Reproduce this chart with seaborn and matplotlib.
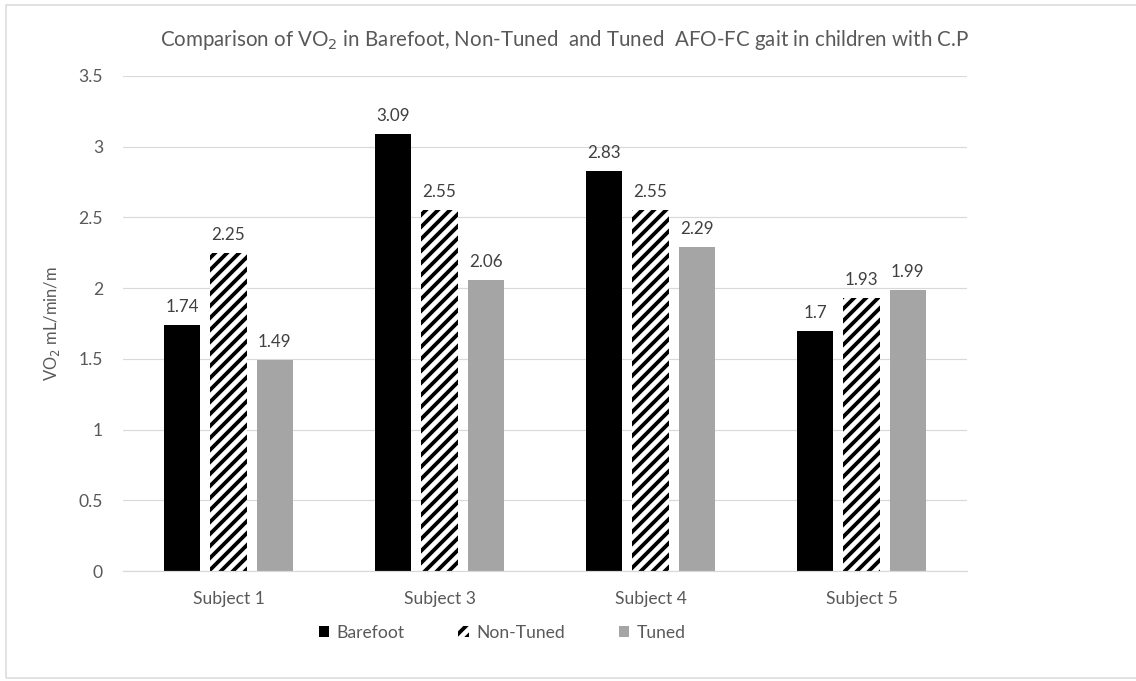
"""
Bar chart: VO2 in barefoot, non-tuned and tuned AFO-FC gait (children with C.P).
"""

import matplotlib.pyplot as plt
import pandas as pd
import seaborn as sns
from matplotlib.patches import Patch, Rectangle

subjects = ["Subject 1", "Subject 3", "Subject 4", "Subject 5"]
conditions = ["Barefoot", "Non-Tuned", "Tuned"]
barefoot = [1.74, 3.09, 2.83, 1.70]
non_tuned = [2.25, 2.55, 2.55, 1.93]
tuned = [1.49, 2.06, 2.29, 1.99]
value_labels = [
    ["1.74", "3.09", "2.83", "1.7"],
    ["2.25", "2.55", "2.55", "1.93"],
    ["1.49", "2.06", "2.29", "1.99"],
]

TEXT = "#595959"
GRID = "#D9D9D9"
colors = {"Barefoot": "black", "Non-Tuned": "white", "Tuned": "#A5A5A5"}

df = pd.DataFrame(
    {
        "subject": subjects * 3,
        "condition": [c for c in conditions for _ in subjects],
        "vo2": barefoot + non_tuned + tuned,
    }
)

sns.set_style("white")
plt.rcParams["font.family"] = ["Lato", "DejaVu Sans"]
plt.rcParams["hatch.linewidth"] = 3.8

# 72 dpi so that points == pixels
fig = plt.figure(figsize=(1136 / 72, 681 / 72), dpi=72)
ax = fig.add_axes([123 / 1136, 1 - 571 / 681, (967 - 123) / 1136, (571 - 76) / 681])

sns.barplot(
    data=df, x="subject", y="vo2", hue="condition", order=subjects,
    hue_order=conditions, palette=colors, saturation=1, width=0.66, gap=0.22,
    linewidth=0, edgecolor="black", ax=ax, legend=False, errorbar=None,
)

for cont, name, labels in zip(ax.containers, conditions, value_labels):
    if name == "Non-Tuned":
        for bar in cont:
            bar.set_hatch("//")
            bar.set_edgecolor("black")
            bar.set_linewidth(0)
    ax.bar_label(cont, labels=labels, padding=10, fontsize=17, color="#404040")

ax.set_ylim(0, 3.5)
ax.set_yticks([0, 0.5, 1, 1.5, 2, 2.5, 3, 3.5])
ax.set_yticklabels(["0", "0.5", "1", "1.5", "2", "2.5", "3", "3.5"])
ax.yaxis.grid(True, color=GRID, linewidth=1.2)
ax.set_axisbelow(True)
sns.despine(ax=ax, left=True, top=True, right=True, bottom=False)
ax.spines["bottom"].set_color(GRID)
ax.spines["bottom"].set_linewidth(1.2)
ax.tick_params(axis="both", length=0, labelsize=17.5, labelcolor=TEXT)
ax.tick_params(axis="y", pad=20)
ax.tick_params(axis="x", pad=20)
ax.set_xlabel("")
ax.set_ylabel("VO$_2$ mL/min/m", fontsize=16.5, color=TEXT)
ax.yaxis.set_label_coords(-0.072, 0.5)

fig.text(564 / 1136, 1 - 40 / 681,
         "Comparison of VO$_2$ in Barefoot, Non-Tuned  and Tuned  AFO-FC gait in children with C.P",
         ha="center", va="center", fontsize=20.5, color=TEXT)

handles = [
    Patch(facecolor="black", edgecolor="black", linewidth=0),
    Patch(facecolor="white", edgecolor="black", linewidth=0, hatch="//"),
    Patch(facecolor="#A5A5A5", edgecolor="#A5A5A5", linewidth=0),
]
fig.legend(
    handles, conditions, loc="center", bbox_to_anchor=(502 / 1136, 1 - 633 / 681),
    ncol=3, frameon=False, fontsize=17.5, labelcolor=TEXT, handlelength=0.6,
    handleheight=0.6, handletextpad=0.4, columnspacing=3.1,
)

# light chart-area border
fig.patches.append(Rectangle((6 / 1136, 3 / 681), 1.1, 1 - 8 / 681, transform=fig.transFigure,
                             fill=False, edgecolor=GRID, linewidth=1.5))

fig.savefig("out.png", dpi=72)
plt.close(fig)
